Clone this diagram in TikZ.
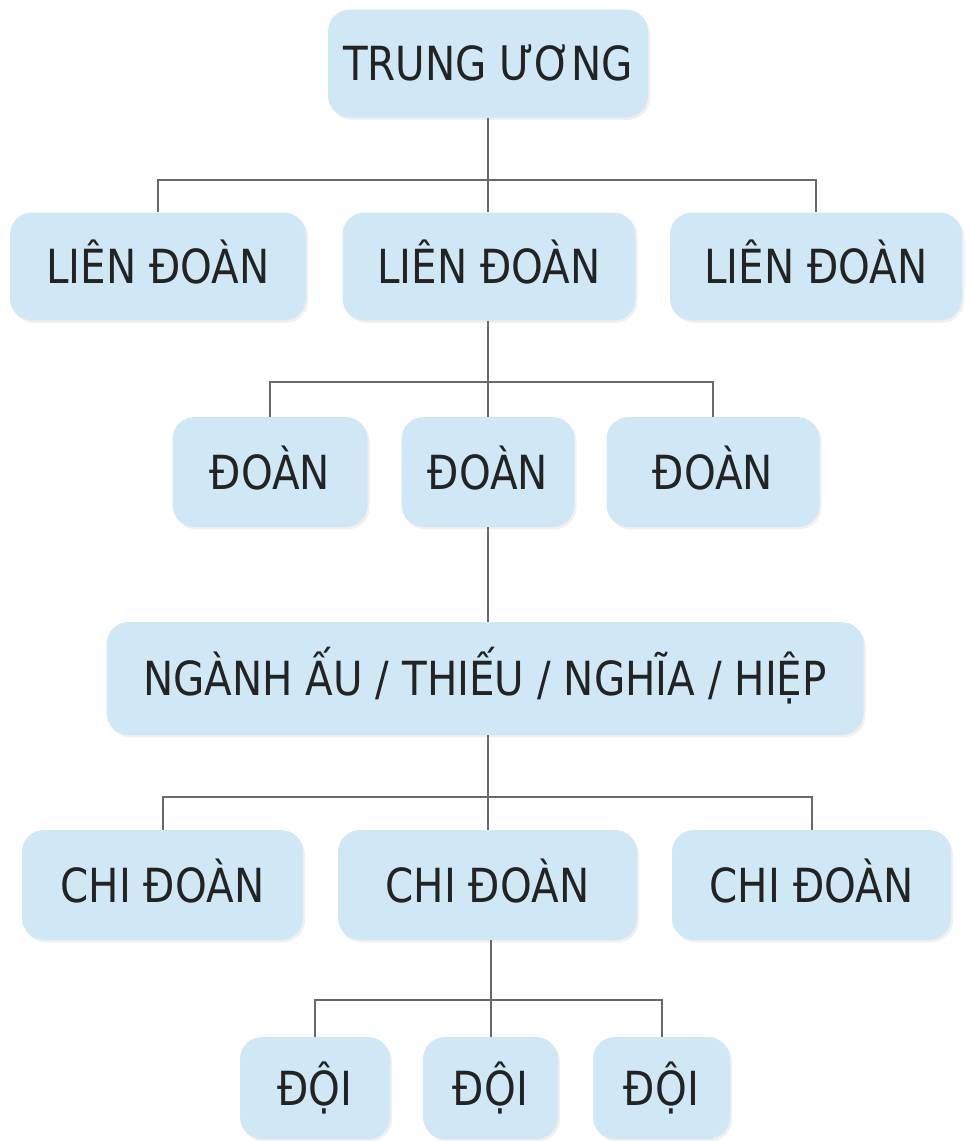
\documentclass[tikz,border=0pt]{standalone}
\usepackage{fontspec}
\setmainfont{DejaVu Sans}[FakeStretch=0.86]
\usetikzlibrary{shadows}

\definecolor{boxblue}{RGB}{208,232,246}
\definecolor{linegray}{RGB}{105,105,105}
\definecolor{textdark}{RGB}{35,35,35}

\begin{document}
\begin{tikzpicture}[x=0.5pt,y=-0.5pt,
  box/.style={fill=boxblue, rounded corners=11pt, text=textdark,
    font=\fontsize{23.5}{27}\selectfont, inner sep=0pt,
    text height=17pt, text depth=0pt, minimum height=54pt,
    drop shadow={shadow xshift=1pt, shadow yshift=-1.2pt, opacity=0.12}},
  link/.style={draw=linegray, line width=1pt}]
  \useasboundingbox (0,0) rectangle (965,1141);

  % Levels
  \node[box, minimum width=160pt] (tw) at (488,63.5) {TRUNG ƯƠNG};

  \node[box, minimum width=148pt] (lien1) at (158,266.5) {LIÊN ĐOÀN};
  \node[box, minimum width=146.5pt] (lien2) at (489,266.5) {LIÊN ĐOÀN};
  \node[box, minimum width=146pt] (lien3) at (816,266.5) {LIÊN ĐOÀN};

  \node[box, minimum width=97.5pt, minimum height=55pt] (doan1) at (270,472) {ĐOÀN};
  \node[box, minimum width=86.5pt, minimum height=55pt] (doan2) at (488,472) {ĐOÀN};
  \node[box, minimum width=106.5pt, minimum height=55pt] (doan3) at (713,472) {ĐOÀN};

  \node[box, minimum width=378.5pt, minimum height=56.5pt] (nganh) at (485,678.5) {NGÀNH ẤU / THIẾU / NGHĨA / HIỆP};

  \node[box, minimum width=140.5pt, minimum height=55pt] (chi1) at (162.5,885) {CHI ĐOÀN};
  \node[box, minimum width=149.5pt, minimum height=55pt] (chi2) at (487.5,885) {CHI ĐOÀN};
  \node[box, minimum width=139.5pt, minimum height=55pt] (chi3) at (811.5,885) {CHI ĐOÀN};

  \node[box, minimum width=75pt, minimum height=51pt] (doi1) at (315,1088) {ĐỘI};
  \node[box, minimum width=67.5pt, minimum height=51pt] (doi2) at (490.5,1088) {ĐỘI};
  \node[box, minimum width=68.5pt, minimum height=51pt] (doi3) at (661.5,1088) {ĐỘI};

  % Branch points
  \coordinate (bar1) at (488,180);
  \coordinate (bar2) at (488,382);
  \coordinate (bar4) at (487.5,797);
  \coordinate (bar5) at (490.5,1000);

  % Connectors
  \draw[link] (tw.south -| bar1) -- (bar1);
  \draw[link] (lien1.north) |- (bar1) -| (lien3.north);
  \draw[link] (bar1) -- (lien2.north -| bar1);

  \draw[link] (lien2.south -| bar2) -- (bar2);
  \draw[link] (doan1.north) |- (bar2) -| (doan3.north);
  \draw[link] (bar2) -- (doan2.north -| bar2);

  \draw[link] (doan2.south) -- (nganh.north -| doan2.south);

  \draw[link] (nganh.south -| bar4) -- (bar4);
  \draw[link] (chi1.north) |- (bar4) -| (chi3.north);
  \draw[link] (bar4) -- (chi2.north -| bar4);

  \draw[link] (chi2.south -| bar5) -- (bar5);
  \draw[link] (doi1.north) |- (bar5) -| (doi3.north);
  \draw[link] (bar5) -- (doi2.north -| bar5);
\end{tikzpicture}
\end{document}
